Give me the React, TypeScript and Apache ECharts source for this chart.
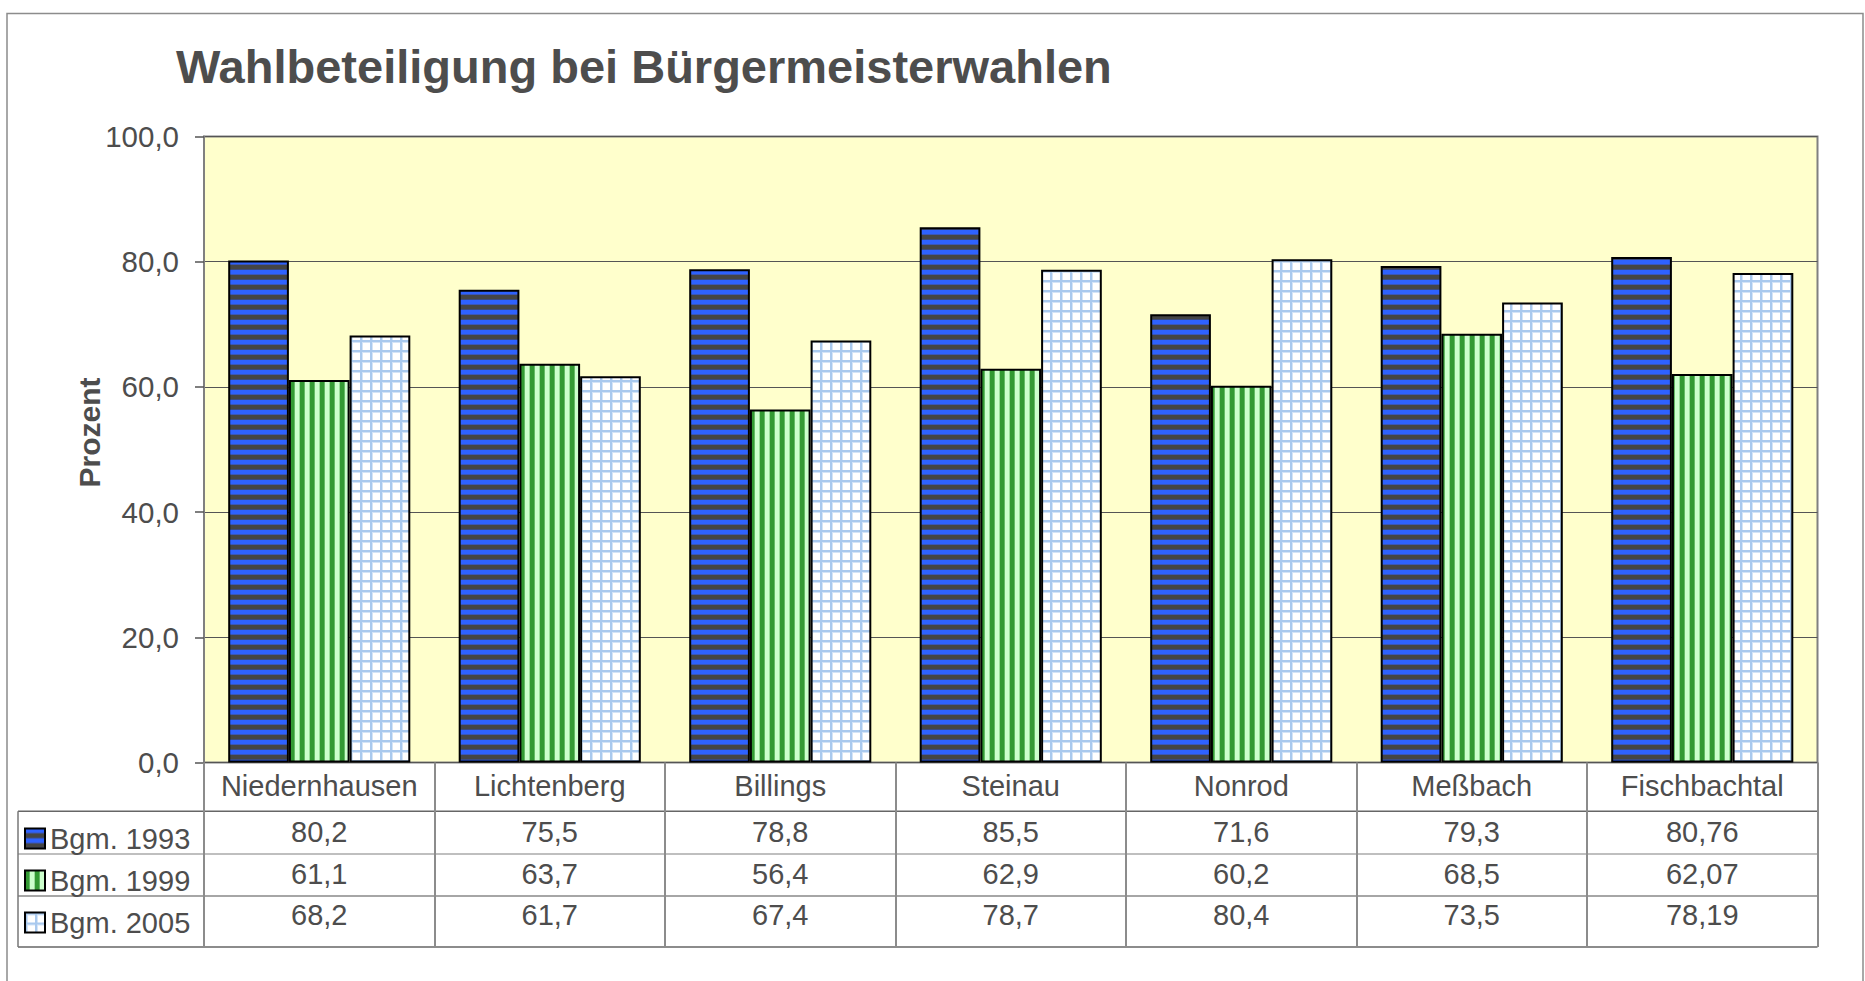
import { useEffect, useRef } from 'react';
import * as echarts from 'echarts';

const TITLE = 'Wahlbeteiligung bei Bürgermeisterwahlen';
const Y_NAME = 'Prozent';
const CATEGORIES = ['Niedernhausen', 'Lichtenberg', 'Billings', 'Steinau', 'Nonrod', 'Meßbach', 'Fischbachtal'];
const SERIES_NAMES = ['Bgm. 1993', 'Bgm. 1999', 'Bgm. 2005'];
const BGM_1993 = [80.2, 75.5, 78.8, 85.5, 71.6, 79.3, 80.76];
const BGM_1999 = [61.1, 63.7, 56.4, 62.9, 60.2, 68.5, 62.07];
const BGM_2005 = [68.2, 61.7, 67.4, 78.7, 80.4, 73.5, 78.19];
const Y_MIN = 0;
const Y_MAX = 100;
const Y_INTERVAL = 20;

const FONT = '"Liberation Sans", Arial, Helvetica, sans-serif';
const TEXT = '#4d4d4d';

const W = 1865;
const H = 981;
const G_LEFT = 204;
const G_RIGHT = 1817.5;
const G_TOP = 136.5;
const G_BOTTOM = 762.5;
const TABLE_LEFT = 18;
const ROW_LINES = [811.3, 854, 896, 947];
const ROW_LINE_COLORS = ['#666666', '#aaaaaa', '#888888', '#666666'];
const VALUE_ROW_Y = [831.5, 873.5, 915];

function makePattern(kind: string) {
  const c = document.createElement('canvas');
  c.width = 10;
  c.height = 10;
  const g = c.getContext('2d')!;
  if (kind === 'h') {
    g.fillStyle = '#454545';
    g.fillRect(0, 0, 10, 10);
    g.fillStyle = '#2e62ff';
    g.fillRect(0, 0, 10, 4);
    g.fillStyle = '#3a56b8';
    g.fillRect(0, 4, 10, 1);
    g.fillStyle = '#3a4a80';
    g.fillRect(0, 9, 10, 1);
  } else if (kind === 'v') {
    g.fillStyle = '#ccffcc';
    g.fillRect(0, 0, 10, 10);
    g.fillStyle = '#339933';
    g.fillRect(0, 0, 4, 10);
    g.fillStyle = '#66bb66';
    g.fillRect(4, 0, 1, 10);
    g.fillStyle = '#99dd99';
    g.fillRect(9, 0, 1, 10);
  } else {
    g.fillStyle = '#ffffff';
    g.fillRect(0, 0, 10, 10);
    g.fillStyle = '#d4e4f7';
    g.fillRect(0, 0, 10, 3);
    g.fillRect(0, 0, 3, 10);
    g.fillStyle = '#a9c9ee';
    g.fillRect(0, 0, 10, 2);
    g.fillRect(0, 0, 2, 10);
  }
  return { image: c, repeat: 'repeat', imageWidth: 10, imageHeight: 10 } as any;
}

const fmt = (v: number) => String(v).replace('.', ',');

export default function App() {
  const ref = useRef<HTMLDivElement>(null);
  useEffect(() => {
    const chart = echarts.init(ref.current!, null, { renderer: 'svg' });
    const patterns = [makePattern('h'), makePattern('v'), makePattern('g')];
    const seriesData = [BGM_1993, BGM_1999, BGM_2005];

    chart.setOption({
      animation: false,
      backgroundColor: '#ffffff',
      textStyle: { fontFamily: FONT },
      title: {
        text: TITLE,
        left: 176,
        top: 43,
        padding: 0,
        textStyle: { fontSize: 47, fontWeight: 'bold', color: TEXT, fontFamily: FONT },
      },
      legend: {
        orient: 'vertical',
        left: 24,
        top: 824,
        itemWidth: 20,
        itemHeight: 20,
        itemGap: 13,
        icon: 'rect',
        selectedMode: false,
        padding: 0,
        textStyle: { fontSize: 29, color: TEXT, fontFamily: FONT },
        data: SERIES_NAMES,
      },
      grid: {
        left: G_LEFT,
        right: W - G_RIGHT,
        top: G_TOP,
        bottom: H - G_BOTTOM,
        show: true,
        backgroundColor: '#ffffcc',
        borderColor: '#808080',
        borderWidth: 2,
        containLabel: false,
        outerBoundsMode: 'none',
      },
      xAxis: {
        type: 'category',
        data: CATEGORIES,
        axisLine: { show: false },
        axisTick: { show: true, length: ROW_LINES[3] - G_BOTTOM, lineStyle: { color: '#8c8c8c', width: 2 } },
        axisLabel: { fontSize: 29, color: TEXT, fontFamily: FONT, margin: 9, interval: 0 },
        splitLine: { show: false },
      },
      yAxis: {
        type: 'value',
        min: Y_MIN,
        max: Y_MAX,
        interval: Y_INTERVAL,
        axisLine: { show: true, lineStyle: { color: '#808080', width: 2 } },
        axisTick: { show: true, length: 9, lineStyle: { color: '#555555', width: 1.5 } },
        axisLabel: {
          fontSize: 29.5,
          color: TEXT,
          fontFamily: FONT,
          margin: 25,
          formatter: (v: number) => v.toFixed(1).replace('.', ','),
        },
        splitLine: { show: true, lineStyle: { color: '#555555', width: 1 } },
      },
      series: SERIES_NAMES.map((name, i) => ({
        name,
        type: 'bar',
        data: seriesData[i],
        barGap: '0%',
        barCategoryGap: '21%',
        itemStyle: { color: patterns[i], borderColor: '#000000', borderWidth: 2 },
        emphasis: { disabled: true },
      })),
    });

    const xs = CATEGORIES.map((_, i) => chart.convertToPixel({ xAxisIndex: 0 }, i) as number);

    const elements: any[] = [];
    elements.push({
      type: 'rect',
      silent: true,
      z: -10,
      shape: { x: 7, y: 13.5, width: 1856, height: 1000 },
      style: { fill: 'none', stroke: '#8c8c8c', lineWidth: 1.5 },
    });
    elements.push({
      type: 'text',
      silent: true,
      x: 89,
      y: 432.5,
      rotation: Math.PI / 2,
      style: {
        text: Y_NAME,
        fontSize: 30,
        fontWeight: 'bold',
        fontFamily: FONT,
        fill: TEXT,
        align: 'center',
        verticalAlign: 'middle',
      },
    });
    ROW_LINES.forEach((y, i) => {
      elements.push({
        type: 'line',
        silent: true,
        shape: { x1: TABLE_LEFT, y1: y, x2: G_RIGHT, y2: y },
        style: { stroke: ROW_LINE_COLORS[i], lineWidth: 1.5 },
      });
    });
    elements.push({
      type: 'line',
      silent: true,
      shape: { x1: TABLE_LEFT, y1: ROW_LINES[0], x2: TABLE_LEFT, y2: ROW_LINES[3] },
      style: { stroke: '#777777', lineWidth: 1.5 },
    });
    seriesData.forEach((vals, r) => {
      vals.forEach((v, i) => {
        elements.push({
          type: 'text',
          silent: true,
          x: xs[i],
          y: VALUE_ROW_Y[r],
          style: {
            text: fmt(v),
            fontSize: 29,
            fontFamily: FONT,
            fill: TEXT,
            align: 'center',
            verticalAlign: 'middle',
          },
        });
      });
    });

    chart.setOption({ graphic: { elements } });

    return () => chart.dispose();
  }, []);
  return <div ref={ref} style={{ position: 'fixed', left: 0, top: 0, width: W, height: H }} />;
}
